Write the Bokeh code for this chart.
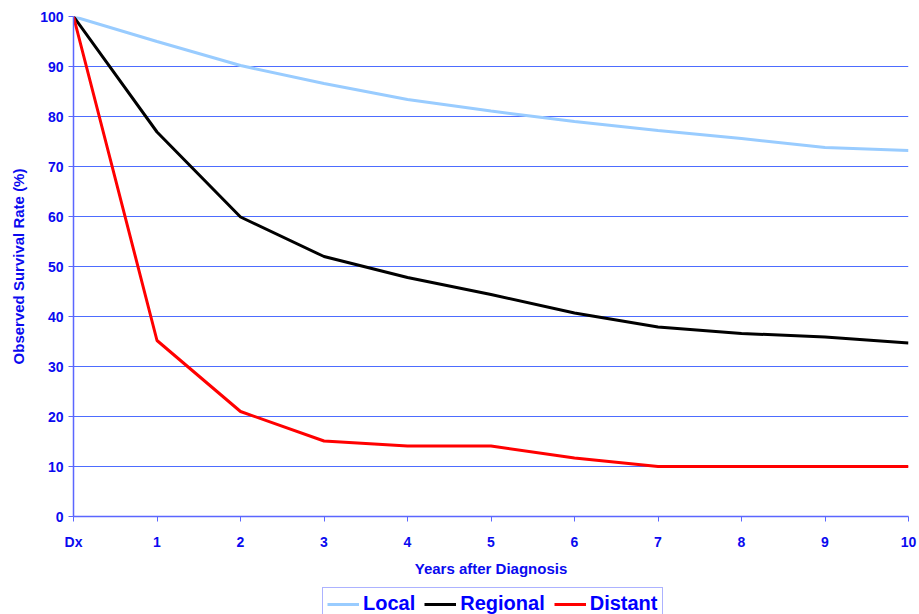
from bokeh.plotting import figure
from bokeh.layouts import column
from bokeh.models import Legend, LegendItem, Range1d, FixedTicker
from bokeh.embed import file_html
from bokeh.resources import INLINE

years = [0, 1, 2, 3, 4, 5, 6, 7, 8, 9, 10]
tick_labels = ["Dx", "1", "2", "3", "4", "5", "6", "7", "8", "9", "10"]
local = [100, 95.0, 90.2, 86.6, 83.4, 81.1, 79.0, 77.2, 75.6, 73.8, 73.2]
regional = [100, 76.9, 59.9, 52.0, 47.8, 44.4, 40.7, 37.9, 36.6, 35.9, 34.7]
distant = [100, 35.2, 21.0, 15.1, 14.1, 14.1, 11.7, 10.0, 10.0, 10.0, 10.0]
y_ticks = [0, 10, 20, 30, 40, 50, 60, 70, 80, 90, 100]
series = [("Local", local, "#99ccff"), ("Regional", regional, "#000000"), ("Distant", distant, "#ff0000")]

BLUE = "#0a0aef"
GRID = "#4d6cff"
AXIS = "#5a66ff"
FONT = "Liberation Sans"

p = figure(width=919, height=580, output_backend="svg", toolbar_location=None,
           x_range=Range1d(0, 10), y_range=Range1d(0, 100),
           min_border_left=73, min_border_right=11, min_border_top=16, min_border_bottom=64)
p.outline_line_color = None

p.xaxis.ticker = FixedTicker(ticks=years)
p.xaxis.major_label_overrides = {y: t for y, t in zip(years, tick_labels)}
p.yaxis.ticker = FixedTicker(ticks=y_ticks)

for ax in (p.xaxis[0], p.yaxis[0]):
    ax.axis_line_color = AXIS
    ax.axis_line_width = 1.5
    ax.major_tick_line_color = AXIS
    ax.major_tick_out = 5
    ax.major_tick_in = 0
    ax.minor_tick_out = 0
    ax.minor_tick_in = 0
    ax.major_label_text_font = FONT
    ax.major_label_text_font_style = "bold"
    ax.major_label_text_font_size = "14px"
    ax.major_label_text_color = BLUE
    ax.axis_label_text_font = FONT
    ax.axis_label_text_font_style = "bold"
    ax.axis_label_text_font_size = "15px"
    ax.axis_label_text_color = BLUE

p.xaxis.axis_label = "Years after Diagnosis"
p.yaxis.axis_label = "Observed Survival Rate (%)"
p.xaxis.major_label_standoff = 12
p.xaxis.axis_label_standoff = 7
p.yaxis.major_label_standoff = 5
p.yaxis.axis_label_standoff = 10

p.xgrid.grid_line_color = None
p.ygrid.grid_line_color = GRID
p.ygrid.grid_line_width = 1
p.ygrid.ticker = FixedTicker(ticks=y_ticks)

for name, vals, col in series:
    p.line(years, vals, line_color=col, line_width=3)

# legend strip below the chart (its lines lie outside its own visible range)
lg = figure(width=919, height=34, output_backend="svg", toolbar_location=None,
            x_range=Range1d(100, 110), y_range=Range1d(200, 210),
            x_axis_type=None, y_axis_type=None,
            min_border_left=0, min_border_right=0, min_border_top=0, min_border_bottom=0)
lg.outline_line_color = None
lg.xgrid.grid_line_color = None
lg.ygrid.grid_line_color = None
items = []
for name, vals, col in series:
    r = lg.line(years, vals, line_color=col, line_width=3)
    items.append(LegendItem(label=name, renderers=[r]))

legend = Legend(items=items, orientation="horizontal", location=(249, -6),
                label_text_font=FONT, label_text_font_style="bold",
                label_text_font_size="20px", label_text_color="#0000ff",
                border_line_color=AXIS, border_line_width=1.5,
                glyph_width=32, glyph_height=20, label_standoff=4, spacing=9,
                padding=4, margin=0, label_height=20)
lg.add_layout(legend, "center")

layout = column(p, lg, spacing=0)
open("out.html", "w").write(file_html(layout, INLINE))
